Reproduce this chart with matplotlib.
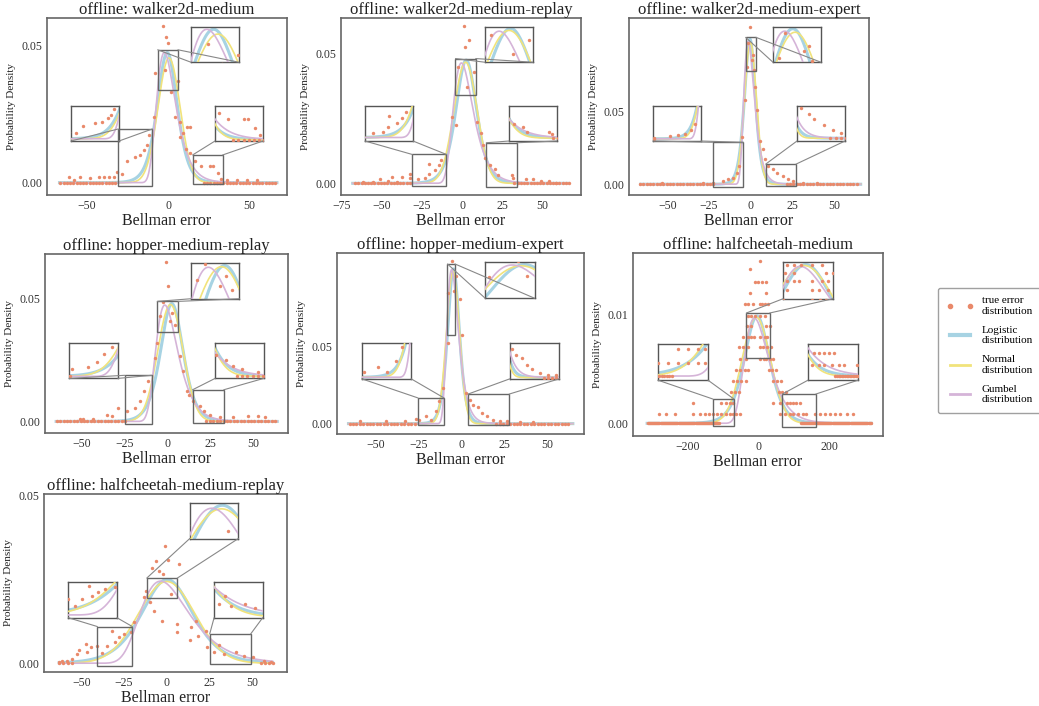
import numpy as np
import matplotlib
matplotlib.use('Agg')
import matplotlib.pyplot as plt
from matplotlib.patches import Rectangle, ConnectionPatch
from matplotlib.lines import Line2D

plt.rcParams['font.family'] = ['Liberation Serif', 'DejaVu Serif']

C_DOT = '#E9896A'
C_LOG = '#A7D3E3'
C_NORM = '#F1E37B'
C_GUM = '#D5B4D8'

titles = ['offline: walker2d-medium', 'offline: walker2d-medium-replay',
          'offline: walker2d-medium-expert', 'offline: hopper-medium-replay',
          'offline: hopper-medium-expert', 'offline: halfcheetah-medium',
          'offline: halfcheetah-medium-replay']

# axis ranges and ticks
xlims = [(-74.7, 73.2), (-75.3, 74.0), (-73, 71), (-71.5, 70.3),
         (-72.7, 71.5), (-355, 353), (-71.9, 70.5)]
ylims = [(-0.0045, 0.0601), (-0.0045, 0.0636), (-0.0074, 0.1142), (-0.0047, 0.0682),
         (-0.0067, 0.1103), (-0.00117, 0.01572), (-0.0026, 0.0503)]
xticks = [[-50, 0, 50], [-75, -50, -25, 0, 25, 50], [-50, -25, 0, 25, 50],
          [-50, -25, 0, 25, 50], [-50, -25, 0, 25, 50], [-200, 0, 200],
          [-50, -25, 0, 25, 50]]
yticks = [[0, 0.05], [0, 0.05], [0, 0.05], [0, 0.05], [0, 0.05], [0, 0.01], [0, 0.05]]

# fitted curves: loc, scale, peak height
log_loc = [-0.6, 2.6, -0.45, 2.5, -4.7, -4, 0.3]
log_scale = [4.1, 4.3, 2.2, 4.4, 2.3, 24, 10]
log_peak = [0.0475, 0.0474, 0.0997, 0.0480, 0.1000, 0.0099, 0.0249]
norm_loc = [0.5, 2.2, -0.15, 1.7, -5.0, -6, 0.0]
norm_scale = [6.8, 7.2, 3.6, 7.4, 3.8, 40, 16.5]
norm_peak = [0.0455, 0.0466, 0.0974, 0.0476, 0.0985, 0.0098, 0.0243]
gum_loc = [-2.4, -0.4, -1.5, -1.6, -5.8, -11, -3.6]
gum_scale = [5.8, 6.1, 3.1, 6.3, 3.3, 34, 14]
gum_peak = [0.0475, 0.0463, 0.0981, 0.0474, 0.0995, 0.0097, 0.0244]
curve_lo = [-67, -68, -66, -65, -66, -315, -63]
curve_hi = [67, 66, 66, 64, 65, 320, 62]

# true error distribution (non-empty bins)
x1 = [-3.5, -1.4, -0.4, -2.2, -8.0, 5.8, 1.7, -9.0, 4.2, 7.4, 11.5, 13.2, 9.1, 7.0, 11.1, 13.6,
      16.7, 20.2, 26.0, 27.6, 30.4, 32.5, 36.2, 42.3, 48.5, 54.7, -12.1, -13.1, -14.7, -17.2,
      -20.3, -25.4, -31.6, -28.5, -33.6, -36.7, -39.8, -42.9, -48.0, -54.2, -61.4, -58.3]
y1 = [0.0571, 0.0530, 0.0510, 0.0412, 0.0400, 0.0370, 0.0331, 0.0238, 0.0238, 0.0220, 0.0202,
      0.0202, 0.0181, 0.0165, 0.0124, 0.0108, 0.0078, 0.0060, 0.0060, 0.0060, 0.0035, 0.0015,
      0.0011, 0.0011, 0.0011, 0.0011, 0.0175, 0.0139, 0.0120, 0.0100, 0.0093, 0.0078, 0.0039,
      0.0032, 0.0020, 0.0020, 0.0020, 0.0020, 0.0017, 0.0020, 0.0020, 0.0011]
x2 = [1.0, 4.1, 2.1, -2.5, 7.4, 3.3, -3.5, -6.0, 9.5, 11.6, 13.0, 14.5, 17.1, 20.7, 22.3, 31.0,
      32.0, 39.9, 44.0, 49.2, 54.3, 58.5, -12.8, -14.5, -17.0, -20.5, -20.7, -23.1, -27.3, -32.4,
      -32.4, -37.6, -40.7, -43.8, -45.9, -51.0, -55.2, -61.4]
y2 = [0.0604, 0.0552, 0.0523, 0.0449, 0.0430, 0.0372, 0.0224, 0.0256, 0.0237, 0.0192, 0.0147,
      0.0098, 0.0069, 0.0054, 0.0031, 0.0031, 0.0020, 0.0018, 0.0018, 0.0007, 0.0007, 0.0002,
      0.0089, 0.0069, 0.0050, 0.0076, 0.0037, 0.0020, 0.0015, 0.0037, 0.0020, 0.0024, 0.0005,
      0.0024, 0.0007, 0.0018, 0.0005, 0.0005]
x3 = [-0.2, -1.4, 1.6, 1.0, -2.2, 2.0, -3.2, 2.6, 3.6, -5.4, 5.6, 7.2, 8.6, 10.6, 13.6, 15.6,
      19.2, 22.6, 25.6, 31.6, 39.6, -6.8, -8.4, -10.4, -13.4, -16.4, -22.4, -28.4, -53.4]
y3 = [0.1082, 0.0967, 0.0887, 0.0852, 0.0806, 0.0783, 0.0576, 0.0668, 0.0507, 0.0322, 0.0299,
      0.0242, 0.0173, 0.0126, 0.0104, 0.0080, 0.0057, 0.0035, 0.0023, 0.0011, 0.0011, 0.0126,
      0.0080, 0.0046, 0.0035, 0.0023, 0.0011, 0.0011, 0.0011]
x4 = [-1.0, 0.0, -2.5, 2.9, -4.5, 1.4, 4.3, -6.4, -7.4, 7.2, 8.8, 11.1, 12.6, 15.0, 18.8, 21.2,
      24.7, 30.5, 38.3, 47.0, 52.8, 56.7, -11.3, -13.8, -16.1, -19.0, -23.9, -28.7, -32.6, -35.5,
      -43.3, -49.1, -51.1]
y4 = [0.0650, 0.0551, 0.0487, 0.0442, 0.0428, 0.0408, 0.0394, 0.0320, 0.0258, 0.0265, 0.0204,
      0.0123, 0.0109, 0.0082, 0.0061, 0.0041, 0.0027, 0.0017, 0.0017, 0.0021, 0.0021, 0.0017,
      0.0163, 0.0123, 0.0082, 0.0055, 0.0041, 0.0055, 0.0021, 0.0027, 0.0011, 0.0011, 0.0011]
x5 = [-5.3, -3.0, -4.5, -7.9, -1.0, -7.9, 0.5, -10.8, -13.1, -14.7, -17.6, -20.5, -24.8, -26.4,
      -33.2, -43.9, -59.5, 2.9, 4.8, 6.8, 9.7, 12.2, 14.6, 18.5, 22.4, 26.3, 34.1, 41.9]
y5 = [0.1049, 0.0952, 0.0855, 0.0844, 0.0808, 0.0521, 0.0575, 0.0230, 0.0144, 0.0079, 0.0026,
      0.0047, 0.0026, 0.0030, 0.0015, 0.0015, 0.0015, 0.0198, 0.0155, 0.0123, 0.0105, 0.0069,
      0.0047, 0.0026, 0.0015, 0.0015, 0.0011, 0.0011]
# halfcheetah-medium: densities come in discrete levels
y6_levels = [0.0150, 0.0142, 0.0130, 0.0120, 0.0110, 0.0099, 0.0090, 0.0080, 0.0070,
             0.0059, 0.0049, 0.0039, 0.0029, 0.0019, 0.0009]
x6_rows = [[6], [-25], [-10, -1, 9, 21], [-25, 23], [-39, -29, -15, 6, 9, 18, 28],
           [-29, -20, -10, 4, 18], [-32, -20, 23, 32], [-44, -29, -20, -13, 4, 18, 25],
           [-55, -44, -29, 4, 13, 25, 37], [-53, -34, 4, 15, 23, 34, 42],
           [-62, -51, -39, -29, 30, 40, 49], [-72, -60, -48, -36, 42, 53, 65],
           [-77, -67, -55, 59, 68, 78],
           [-185, -105, -93, -81, -72, 42, 61, 80, 89, 98, 108, 117],
           [-280, -261, -237, -185, -166, -152, -140, -129, -117, -105, -93, -81, -72, -62,
            -53, 61, 75, 89, 98, 113, 127, 136, 160, 174, 188, 202, 217, 231, 250, 269]]
x6 = [x for row in x6_rows for x in row]
y6 = [lv for lv, row in zip(y6_levels, x6_rows) for _ in row]
x7 = [-1.2, -6.5, 0.8, 7.2, -8.8, -4.5, -2.0, -12.3, -9.8, -13.3, -7.4, -2.6, 2.3, 6.2, 5.8,
      13.4, 14.0, 17.0, 18.3, 23.2, 23.8, 27.7, 30.6, 33.6, 40.4, 45.3, 50.8, 57.0, 60.9,
      -19.2, -21.1, -25.0, -28.0, -30.5, -31.9, -34.8, -37.7, -40.7, -44.6, -46.5, -47.5,
      -51.4, -52.4, -55.3, -58.2, -61.2, -63.1]
y7 = [0.0347, 0.0305, 0.0307, 0.0295, 0.0283, 0.0273, 0.0265, 0.0216, 0.0181, 0.0196, 0.0156,
      0.0125, 0.0206, 0.0117, 0.0092, 0.0070, 0.0107, 0.0127, 0.0082, 0.0097, 0.0048, 0.0033,
      0.0053, 0.0028, 0.0033, 0.0023, 0.0018, 0.0008, 0.0003, 0.0122, 0.0092, 0.0087, 0.0077,
      0.0062, 0.0097, 0.0052, 0.0030, 0.0052, 0.0048, 0.0033, 0.0057, 0.0038, 0.0028, 0.0013,
      0.0008, 0.0008, 0.0003]
dots_x = [x1, x2, x3, x4, x5, x6, x7]
dots_y = [y1, y2, y3, y4, y5, y6, y7]

# empty bins (density 0): left range, right range, bin width
zero_left = [(-66.5, -30.5), (-66.5, -31.4), (-66.4, -22.4), (-64.7, -23.9),
             (-65.4, -26.4), (-313, -110), (-63, -54)]
zero_right = [(22, 67), (32.6, 67.8), (21.6, 65.6), (22.7, 63.5), (20.4, 63.3),
              (120, 320), (55, 64.8)]
zero_step = [2, 2, 2, 2, 2, 3, 2.5]

# zoomed regions: (x0, x1, y0, y1) for left tail, peak, right tail
regions = [
    [(-30.8, -9.8, -0.0013, 0.0196), (-6.5, 6.0, 0.0338, 0.0485), (15.0, 33.5, -0.0004, 0.0101)],
    [(-31.0, -9.7, -0.0012, 0.0111), (-4.1, 8.5, 0.0341, 0.0480), (15.1, 34.1, -0.0014, 0.0156)],
    [(-22.8, -4.4, -0.0019, 0.0288), (-3.0, 3.2, 0.0778, 0.1009), (9.0, 27.2, -0.0012, 0.0138)],
    [(-24.9, -9.3, -0.0011, 0.0188), (-6.0, 6.2, 0.0364, 0.0489), (14.6, 32.8, -0.0008, 0.0129)],
    [(-25.4, -10.2, -0.0007, 0.0166), (-8.2, -3.8, 0.0575, 0.1032), (3.8, 27.8, -0.0007, 0.0191)],
    [(-128.6, -69, -0.00028, 0.00224), (-34, 32, 0.00603, 0.01018), (68, 162.7, -0.00034, 0.0027)],
    [(-40.6, -20.1, -0.0009, 0.0109), (-11.7, 6.2, 0.0193, 0.0253), (25.2, 49.2, -0.0002, 0.0087)],
]

# panel boxes in pixels: left, top, right, bottom
W, H = 1039, 706
boxes = [(47, 18, 287, 195), (341, 18, 581, 195), (629, 18, 869, 195),
         (45, 254, 288, 433), (337, 253, 584, 434), (633, 253, 883, 436),
         (44, 494, 287, 672)]
inset_pos = [[0.10, 0.305, 0.2, 0.2], [0.60, 0.75, 0.2, 0.2], [0.70, 0.305, 0.2, 0.2]]


def logistic(x, loc, scale, peak):
    return peak / np.cosh((x - loc) / scale / 2) ** 2


def normal(x, loc, scale, peak):
    return peak * np.exp(-0.5 * ((x - loc) / scale) ** 2)


def gumbel(x, loc, scale, peak):
    z = (x - loc) / scale
    return peak * np.exp(1 - z - np.exp(-z))


def draw(ax, i):
    xs = np.linspace(curve_lo[i], curve_hi[i], 800)
    ax.plot(xs, logistic(xs, log_loc[i], log_scale[i], log_peak[i]), color=C_LOG, lw=2.2, zorder=2)
    ax.plot(xs, normal(xs, norm_loc[i], norm_scale[i], norm_peak[i]), color=C_NORM, lw=1.2, zorder=3)
    ax.plot(xs, gumbel(xs, gum_loc[i], gum_scale[i], gum_peak[i]), color=C_GUM, lw=1.2, zorder=3)
    zx = np.concatenate([np.arange(zero_left[i][0], zero_left[i][1], zero_step[i]),
                         np.arange(zero_right[i][0], zero_right[i][1], zero_step[i])])
    ax.scatter(zx, np.zeros_like(zx), s=6, color=C_DOT, linewidths=0, zorder=4)
    ax.scatter(dots_x[i], dots_y[i], s=6, color=C_DOT, linewidths=0, zorder=4)


fig = plt.figure(figsize=(W / 100, H / 100), dpi=100)

for i in range(7):
    l, t, r, b = boxes[i]
    ax = fig.add_axes([l / W, 1 - b / H, (r - l) / W, (b - t) / H])
    draw(ax, i)
    ax.set_xlim(xlims[i])
    ax.set_ylim(ylims[i])
    ax.set_xticks(xticks[i])
    ax.set_yticks(yticks[i])
    ax.set_yticklabels(['%.2f' % v for v in yticks[i]])
    ax.tick_params(length=0, labelsize=8.5, pad=3.5, labelcolor='#333333')
    for sp in ax.spines.values():
        sp.set_color('#666666')
        sp.set_linewidth(1.2)
    ax.set_title(titles[i], fontsize=12, pad=2, color='#222222')
    ax.set_xlabel('Bellman error', fontsize=11.5, labelpad=1, color='#222222')
    ax.set_ylabel('Probability Density', fontsize=8, labelpad=4, color='#222222')

    for (x0, x1, y0, y1), pos in zip(regions[i], inset_pos):
        ax.add_patch(Rectangle((x0, y0), x1 - x0, y1 - y0, fill=False,
                               ec='#666666', lw=1, zorder=6))
        axins = ax.inset_axes(pos)
        draw(axins, i)
        axins.set_xlim(x0, x1)
        axins.set_ylim(y0, y1)
        axins.set_xticks([])
        axins.set_yticks([])
        for sp in axins.spines.values():
            sp.set_color('#555555')
            sp.set_linewidth(1)
        for corner, xb in [((0, 0), x0), ((1, 0), x1)]:
            con = ConnectionPatch(xyA=corner, coordsA='axes fraction', axesA=axins,
                                  xyB=(xb, y1), coordsB='data', axesB=ax,
                                  color='#888888', lw=0.8)
            fig.add_artist(con)

handles = [Line2D([], [], color=C_DOT, marker='o', ls='none', markersize=3),
           Line2D([], [], color=C_LOG, lw=3),
           Line2D([], [], color=C_NORM, lw=2),
           Line2D([], [], color=C_GUM, lw=2)]
labels = ['true error\ndistribution', 'Logistic\ndistribution',
          'Normal\ndistribution', 'Gumbel\ndistribution']
fig.legend(handles, labels, loc='upper left', bbox_to_anchor=(932 / W, 1 - 282 / H),
           fontsize=8, numpoints=2, handlelength=2.4, labelspacing=0.9,
           frameon=True, edgecolor='#888888', fancybox=True, borderpad=0.8)

fig.savefig('out.png', dpi=100)
